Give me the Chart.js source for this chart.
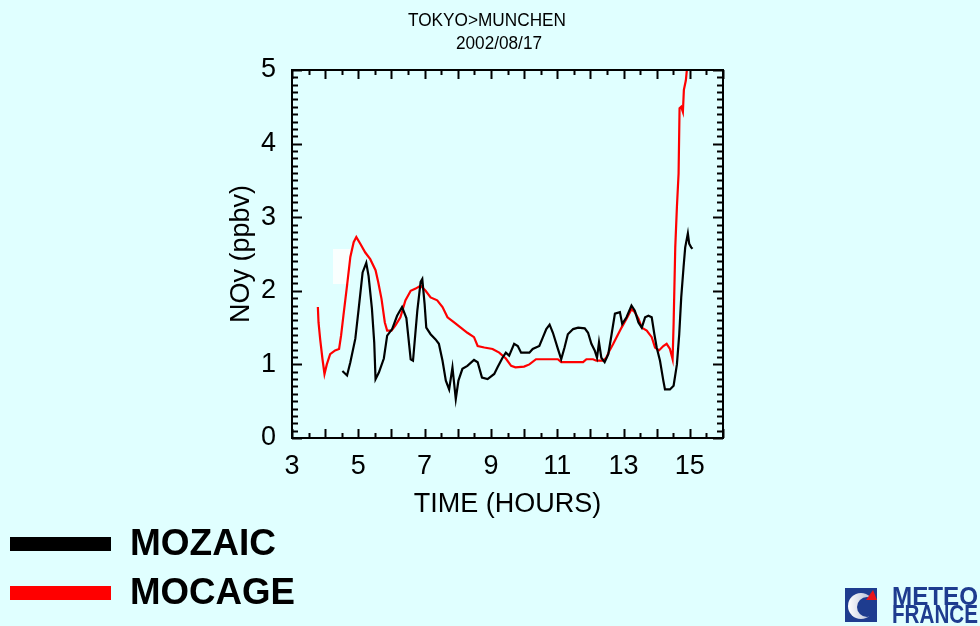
<!DOCTYPE html>
<html>
<head>
<meta charset="utf-8">
<title>NOy TOKYO>MUNCHEN</title>
<script src="https://cdn.jsdelivr.net/npm/chart.js@4"></script>
<style>
  html, body { margin: 0; padding: 0; background: #e0ffff; }
  #noyChart { display: block; }
</style>
</head>
<body>
<canvas id="noyChart" width="980" height="626"></canvas>
<script>
// Flight TOKYO > MUNCHEN, 2002/08/17 - NOy along the flight, measured vs model

const mozaicHours = [4.52, 4.66, 4.76, 4.91, 5.01, 5.13, 5.24, 5.31, 5.41, 5.48, 5.52, 5.62, 5.77, 5.87,
    6.02, 6.17, 6.32, 6.45, 6.58, 6.65, 6.78, 6.88, 6.93, 7.00, 7.05, 7.18, 7.33, 7.43, 7.54, 7.64,
    7.74, 7.84, 7.94, 8.02, 8.14, 8.29, 8.49, 8.60, 8.73, 8.90, 9.10, 9.20, 9.35, 9.45, 9.55, 9.70,
    9.81, 9.91, 10.16, 10.26, 10.46, 10.57, 10.67, 10.77, 10.87, 11.02, 11.12, 11.22, 11.32, 11.48,
    11.63, 11.83, 11.93, 12.03, 12.13, 12.20, 12.26, 12.33, 12.43, 12.54, 12.64, 12.74, 12.89, 12.96,
    13.09, 13.24, 13.34, 13.45, 13.55, 13.65, 13.75, 13.85, 13.93, 14.00, 14.10, 14.20, 14.25, 14.40,
    14.51, 14.61, 14.68, 14.74, 14.81, 14.86, 14.94, 14.98, 15.04, 15.08];
const mozaicNoy = [0.91, 0.85, 1.03, 1.35, 1.75, 2.25, 2.38, 2.20, 1.76, 1.30, 0.80, 0.89, 1.08, 1.39,
    1.48, 1.66, 1.78, 1.63, 1.07, 1.05, 1.73, 2.12, 2.16, 1.82, 1.50, 1.41, 1.34, 1.28, 1.05, 0.78,
    0.66, 0.96, 0.53, 0.78, 0.94, 0.98, 1.06, 1.03, 0.82, 0.80, 0.87, 0.96, 1.09, 1.16, 1.12, 1.28,
    1.25, 1.16, 1.16, 1.21, 1.25, 1.37, 1.48, 1.54, 1.43, 1.21, 1.07, 1.23, 1.41, 1.48,
    1.50, 1.49, 1.43, 1.28, 1.19, 1.09, 1.30, 1.09, 1.03, 1.14, 1.41, 1.69, 1.71, 1.55,
    1.64, 1.80, 1.73, 1.57, 1.50, 1.64, 1.66, 1.64, 1.41, 1.23, 1.05, 0.78, 0.66, 0.66,
    0.71, 1.00, 1.41, 1.91, 2.32, 2.59, 2.78, 2.64, 2.59, 2.57];

const mocageHours = [3.78, 3.80, 3.85, 3.92, 3.98, 4.05, 4.15, 4.30, 4.42, 4.48, 4.55, 4.66, 4.76, 4.86,
    4.94, 5.06, 5.21, 5.36, 5.52, 5.60, 5.70, 5.80, 5.87, 6.00, 6.12, 6.27, 6.42, 6.58, 6.73, 6.88,
    7.03, 7.18, 7.38, 7.54, 7.69, 7.89, 8.09, 8.29, 8.49, 8.60, 8.80, 9.05, 9.25, 9.45, 9.61, 9.74,
    10.00, 10.16, 10.36, 10.67, 11.02, 11.12, 11.78, 11.88, 12.08, 12.18, 12.38, 12.48, 12.58, 12.69,
    12.79, 12.94, 13.09, 13.24, 13.34, 13.45, 13.55, 13.70, 13.85, 13.95, 14.07, 14.20, 14.30, 14.40,
    14.48, 14.51, 14.56, 14.61, 14.66, 14.69, 14.74, 14.79, 14.82, 14.88, 14.91, 14.95];
const mocageNoy = [1.78, 1.57, 1.34, 1.07, 0.87, 1.00, 1.14, 1.19, 1.21, 1.39, 1.66, 2.07, 2.46, 2.66,
    2.73, 2.64, 2.52, 2.43, 2.28, 2.12, 1.89, 1.57, 1.46, 1.46, 1.53, 1.64, 1.87, 2.00, 2.03, 2.07,
    2.00, 1.91, 1.87, 1.78, 1.64, 1.57, 1.50, 1.43, 1.37, 1.25, 1.23, 1.21, 1.16, 1.08, 0.98, 0.96,
    0.97, 1.00, 1.07, 1.07, 1.07, 1.03, 1.03, 1.07, 1.07, 1.05, 1.05, 1.09, 1.19, 1.28,
    1.37, 1.50, 1.62, 1.75, 1.71, 1.62, 1.50, 1.46, 1.37, 1.23, 1.19, 1.25, 1.28, 1.21,
    1.07, 1.55, 2.59, 3.14, 3.59, 4.48, 4.50, 4.43, 4.73, 4.86, 5.00, 5.15];

const seriesNames = ['MOZAIC', 'MOCAGE'];
const seriesColors = ['#000000', '#ff0000'];
const titleLines = ['TOKYO>MUNCHEN', '2002/08/17'];

const FONT = '"Liberation Sans", Arial, Helvetica, sans-serif';

function toPoints(xs, ys) {
    return xs.map((x, i) => ({ x: x, y: ys[i] }));
}

function isWhole(v) {
    return Math.abs(v - Math.round(v)) < 1e-6;
}

// inward ticks on all four sides plus the frame, titles, legend and logo
const decorPlugin = {
    id: 'decor',
    beforeDatasetsDraw(chart) {
        // small white patch sitting in the plot near 4.5 h
        const ctx = chart.ctx;
        ctx.save();
        ctx.fillStyle = '#fafffe';
        ctx.fillRect(333, 249, 17, 35);
        ctx.restore();
    },
    afterDraw(chart) {
        const ctx = chart.ctx;
        const a = chart.chartArea;
        const xs = chart.scales.x;
        const ys = chart.scales.y;

        ctx.save();
        ctx.strokeStyle = '#000';
        ctx.lineWidth = 2;
        ctx.beginPath();
        xs.ticks.forEach(t => {
            const px = Math.round(xs.getPixelForValue(t.value)) + 0.5;
            const len = isWhole(t.value) ? 9 : 5;
            ctx.moveTo(px, a.bottom);
            ctx.lineTo(px, a.bottom - len);
            ctx.moveTo(px, a.top);
            ctx.lineTo(px, a.top + len);
        });
        ys.ticks.forEach(t => {
            const py = Math.round(ys.getPixelForValue(t.value)) + 0.5;
            const len = isWhole(t.value) ? 10 : 6;
            ctx.moveTo(a.left, py);
            ctx.lineTo(a.left + len, py);
            ctx.moveTo(a.right, py);
            ctx.lineTo(a.right - len, py);
        });
        ctx.stroke();
        ctx.strokeRect(a.left, a.top, a.right - a.left, a.bottom - a.top);

        // title
        ctx.fillStyle = '#000';
        ctx.textAlign = 'center';
        ctx.textBaseline = 'alphabetic';
        ctx.font = '18px ' + FONT;
        ctx.fillText(titleLines[0], 487, 26, 158);
        ctx.fillText(titleLines[1], 499, 49, 86);

        // legend
        ctx.textAlign = 'left';
        ctx.font = 'bold 37px ' + FONT;
        [555, 604].forEach((base, i) => {
            ctx.fillStyle = seriesColors[i];
            ctx.fillRect(10, base - 18, 101, 14);
            ctx.fillStyle = '#000';
            ctx.fillText(seriesNames[i], 130, base, i === 0 ? 147 : 165);
        });

        // METEO FRANCE logo
        const navy = '#1e3c8f';
        ctx.fillStyle = navy;
        ctx.fillRect(845, 588, 32, 34);
        const grad = ctx.createLinearGradient(848, 0, 870, 0);
        grad.addColorStop(0, '#ffffff');
        grad.addColorStop(1, '#b8c0d8');
        ctx.fillStyle = grad;
        ctx.beginPath();
        ctx.arc(861, 606, 13, 0, Math.PI * 2);
        ctx.fill();
        ctx.fillStyle = navy;
        ctx.beginPath();
        ctx.arc(867, 607, 10, 0, Math.PI * 2);
        ctx.fill();
        ctx.fillStyle = '#e8141c';
        ctx.beginPath();
        ctx.moveTo(873, 590);
        ctx.lineTo(877, 600);
        ctx.lineTo(866, 600);
        ctx.closePath();
        ctx.fill();
        ctx.fillStyle = navy;
        ctx.font = 'bold 25px ' + FONT;
        ctx.fillText('METEO', 892, 605, 86);
        ctx.fillText('FRANCE', 892, 623, 86);
        ctx.restore();
    }
};

const ctx = document.getElementById('noyChart').getContext('2d');
new Chart(ctx, {
    type: 'line',
    data: {
        datasets: [
            {
                label: seriesNames[0],
                data: toPoints(mozaicHours, mozaicNoy),
                borderColor: seriesColors[0],
                borderWidth: 2.2,
                pointRadius: 0,
                tension: 0,
                fill: false
            },
            {
                label: seriesNames[1],
                data: toPoints(mocageHours, mocageNoy),
                borderColor: seriesColors[1],
                borderWidth: 2.2,
                pointRadius: 0,
                tension: 0,
                fill: false
            }
        ]
    },
    options: {
        responsive: false,
        animation: false,
        events: [],
        layout: { padding: { top: 70, left: 0, right: 257, bottom: 0 } },
        plugins: {
            legend: { display: false },
            title: { display: false },
            tooltip: { enabled: false }
        },
        scales: {
            x: {
                type: 'linear',
                min: 3,
                max: 16,
                afterFit: scale => { scale.height = 188; },
                grid: { display: false, drawTicks: false },
                border: { display: false },
                ticks: {
                    stepSize: 0.5,
                    maxTicksLimit: 1000,
                    autoSkip: false,
                    maxRotation: 0,
                    minRotation: 0,
                    padding: 12,
                    color: '#000',
                    font: { family: FONT, size: 27 },
                    callback: v => (isWhole(v) && Math.round(v) % 2 === 1) ? String(Math.round(v)) : ''
                },
                title: {
                    display: true,
                    text: 'TIME (HOURS)',
                    color: '#000',
                    font: { family: FONT, size: 27 },
                    padding: { top: 0, bottom: 105 }
                }
            },
            y: {
                min: 0,
                max: 5,
                afterFit: scale => { scale.width = 292; },
                grid: { display: false, drawTicks: false },
                border: { display: false },
                ticks: {
                    stepSize: 0.1,
                    maxTicksLimit: 1000,
                    autoSkip: false,
                    padding: 16,
                    color: '#000',
                    font: { family: FONT, size: 27 },
                    callback: v => isWhole(v) ? String(Math.round(v)) : ''
                },
                title: {
                    display: true,
                    text: 'NOy (ppbv)',
                    color: '#000',
                    font: { family: FONT, size: 27 },
                    padding: { top: 225, bottom: 0 }
                }
            }
        }
    },
    plugins: [decorPlugin]
});
</script>
</body>
</html>
